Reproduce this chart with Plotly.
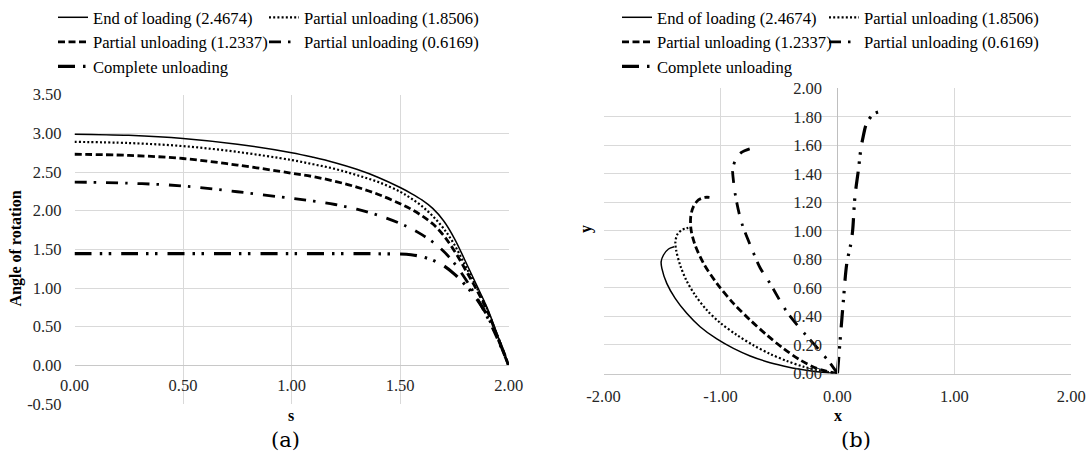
import plotly.graph_objects as go

# ---------------- data ----------------
series_names = ["End of loading (2.4674)", "Partial unloading (1.8506)",
                "Partial unloading (1.2337)", "Partial unloading (0.6169)",
                "Complete unloading"]

# (a) angle of rotation vs s
s_vals = [0, 0.25, 0.5, 0.75, 1.0, 1.1, 1.2, 1.3, 1.4, 1.5, 1.55, 1.6, 1.65, 1.7, 1.75, 1.8, 1.85, 1.9, 1.95, 2.0]
theta_end = [2.99, 2.975, 2.935, 2.86, 2.75, 2.69, 2.62, 2.535, 2.43, 2.30, 2.225, 2.14, 2.03, 1.87, 1.64, 1.35, 1.05, 0.75, 0.38, 0.0]
theta_p1 = [2.89, 2.875, 2.835, 2.76, 2.655, 2.60, 2.54, 2.46, 2.37, 2.245, 2.16, 2.06, 1.93, 1.77, 1.56, 1.29, 1.02, 0.73, 0.37, 0.0]
theta_p2 = [2.73, 2.715, 2.675, 2.59, 2.485, 2.44, 2.38, 2.305, 2.21, 2.09, 2.02, 1.935, 1.83, 1.68, 1.48, 1.24, 0.99, 0.71, 0.36, 0.0]
theta_p3 = [2.37, 2.355, 2.32, 2.245, 2.16, 2.125, 2.08, 2.02, 1.94, 1.835, 1.77, 1.69, 1.595, 1.475, 1.32, 1.12, 0.89, 0.63, 0.33, 0.0]
theta_cu = [1.445, 1.445, 1.445, 1.445, 1.445, 1.445, 1.445, 1.445, 1.443, 1.44, 1.43, 1.405, 1.36, 1.29, 1.18, 1.04, 0.87, 0.65, 0.35, 0.0]

# (b) deformed shapes x-y
x_end = [0, -0.177, -0.319, -0.462, -0.604, -0.746, -0.889, -1.031, -1.174, -1.288, -1.387, -1.459, -1.501, -1.507, -1.487, -1.444, -1.396]
y_end = [0, 0.013, 0.029, 0.053, 0.083, 0.123, 0.176, 0.242, 0.328, 0.422, 0.527, 0.632, 0.737, 0.784, 0.831, 0.873, 0.889]
x_p1 = [0, -0.148, -0.291, -0.433, -0.575, -0.718, -0.860, -1.003, -1.117, -1.217, -1.293, -1.345, -1.379, -1.385, -1.368, -1.330, -1.293, -1.254]
y_p1 = [0, 0.020, 0.048, 0.088, 0.137, 0.198, 0.270, 0.356, 0.445, 0.550, 0.656, 0.761, 0.866, 0.924, 0.976, 1.007, 1.018, 1.025]
x_p2 = [0, -0.177, -0.319, -0.462, -0.604, -0.746, -0.889, -1.031, -1.145, -1.217, -1.251, -1.254, -1.231, -1.188, -1.131, -1.094]
y_p2 = [0, 0.036, 0.095, 0.176, 0.270, 0.375, 0.492, 0.632, 0.773, 0.901, 1.006, 1.100, 1.170, 1.217, 1.235, 1.235]
x_p3 = [0, -0.06, -0.15, -0.27, -0.43, -0.575, -0.66, -0.74, -0.82, -0.87, -0.89, -0.895, -0.87, -0.82, -0.75]
y_p3 = [0, 0.07, 0.16, 0.27, 0.43, 0.63, 0.74, 0.89, 1.06, 1.24, 1.36, 1.43, 1.50, 1.55, 1.575]
x_cu = [0, 0.01, 0.03, 0.05, 0.08, 0.115, 0.13, 0.15, 0.18, 0.20, 0.22, 0.25, 0.31, 0.38]
y_cu = [0, 0.1, 0.3, 0.5, 0.77, 0.91, 1.0, 1.24, 1.43, 1.57, 1.66, 1.755, 1.82, 1.84]

# tick labels
a_xticks = [0, 0.5, 1.0, 1.5, 2.0]
a_xlabels = ["0.00", "0.50", "1.00", "1.50", "2.00"]
a_yticks = [-0.5, 0, 0.5, 1.0, 1.5, 2.0, 2.5, 3.0, 3.5]
a_ylabels = ["-0.50", "0.00", "0.50", "1.00", "1.50", "2.00", "2.50", "3.00", "3.50"]
b_xticks = [-2, -1, 0, 1, 2]
b_xlabels = ["-2.00", "-1.00", "0.00", "1.00", "2.00"]
b_yticks = [0, 0.2, 0.4, 0.6, 0.8, 1.0, 1.2, 1.4, 1.6, 1.8, 2.0]
b_ylabels = ["0.00", "0.20", "0.40", "0.60", "0.80", "1.00", "1.20", "1.40", "1.60", "1.80", "2.00"]

# ---------------- styles ----------------
W, H = 1089, 459
FONT = "Liberation Serif"
styles = [
    dict(color="black", width=1.5, dash="solid"),
    dict(color="black", width=2.2, dash="2px,2.2px"),
    dict(color="black", width=2.8, dash="7px,3.5px"),
    dict(color="black", width=2.8, dash="12px,7px,2.5px,10px"),
    dict(color="black", width=3.2, dash="17px,8px,2.5px,6.5px,2.5px,10px"),
]
legend_cols_a = ["legend", "legend2", "legend", "legend2", "legend"]
legend_cols_b = ["legend3", "legend4", "legend3", "legend4", "legend3"]


def px_x(p):
    return p / W


def px_y(p):
    return 1 - p / H


fig = go.Figure()

thetas = [theta_end, theta_p1, theta_p2, theta_p3, theta_cu]
for i, th in enumerate(thetas):
    fig.add_trace(go.Scatter(x=s_vals, y=th, mode="lines", name=series_names[i],
                             line=dict(shape="spline", smoothing=1.0, **styles[i]),
                             xaxis="x", yaxis="y", legend=legend_cols_a[i]))

xs = [x_end, x_p1, x_p2, x_p3, x_cu]
ys = [y_end, y_p1, y_p2, y_p3, y_cu]
for i in range(5):
    fig.add_trace(go.Scatter(x=xs[i], y=ys[i], mode="lines", name=series_names[i],
                             line=dict(shape="spline", smoothing=0.9, **styles[i]),
                             xaxis="x2", yaxis="y2", legend=legend_cols_b[i]))

# plot area pixel boxes (page coordinates)
aL, aR, aT, aB = 74.5, 508.7, 94.7, 404.0
bL, bR, bT, bB = 603.5, 1071.3, 88.3, 373.5

grid = "#d9d9d9"
tickfont = dict(family=FONT, size=16.5, color="#262626")
a_ydom = [px_y(aB), px_y(aT)]
b_xdom = [px_x(bL), px_x(bR)]
zero_pos_a = a_ydom[0] + (0 - (-0.5)) / 4.0 * (a_ydom[1] - a_ydom[0])
zero_pos_b = b_xdom[0] + 0.5 * (b_xdom[1] - b_xdom[0])

fig.update_layout(
    width=W, height=H,
    margin=dict(l=0, r=0, t=0, b=0),
    paper_bgcolor="white", plot_bgcolor="white",
    font=dict(family=FONT, size=16, color="black"),
    xaxis=dict(domain=[px_x(aL), px_x(aR)], range=[0, 2], anchor="free", position=zero_pos_a,
               tickvals=a_xticks, ticktext=a_xlabels, showgrid=True, gridcolor=grid, gridwidth=1,
               zeroline=False, showline=True, linecolor="#c8c8c8", linewidth=1, ticks="",
               tickfont=tickfont, automargin=False, ticklabelstandoff=5),
    yaxis=dict(domain=a_ydom, range=[-0.5, 3.5], anchor="x",
               tickvals=a_yticks, ticktext=a_ylabels, showgrid=True, gridcolor=grid, gridwidth=1,
               zeroline=False, showline=False, ticks="", tickfont=tickfont, automargin=False,
               ticklabelstandoff=12),
    xaxis2=dict(domain=b_xdom, range=[-2, 2], anchor="y2",
                tickvals=b_xticks, ticktext=b_xlabels, showgrid=True, gridcolor=grid, gridwidth=1,
                zeroline=False, showline=True, linecolor="#c8c8c8", linewidth=1, ticks="",
                tickfont=tickfont, automargin=False, ticklabelstandoff=8),
    yaxis2=dict(domain=[px_y(bB), px_y(bT)], range=[0, 2], anchor="free", position=zero_pos_b,
                tickvals=b_yticks, ticktext=b_ylabels, showgrid=True, gridcolor=grid, gridwidth=1,
                zeroline=False, showline=True, linecolor="#bfbfbf", linewidth=1, ticks="",
                tickfont=tickfont, automargin=False, ticklabelstandoff=12),
    showlegend=True,
)

legfont = dict(family=FONT, size=16.6, color="black")
leg_common = dict(orientation="v", xanchor="left", yanchor="top", bgcolor="rgba(0,0,0,0)",
                  font=legfont, itemwidth=30, tracegroupgap=0, traceorder="normal")
fig.update_layout(
    legend=dict(x=px_x(53), y=1, **leg_common),
    legend2=dict(x=px_x(264), y=1, **leg_common),
    legend3=dict(x=px_x(617), y=1, **leg_common),
    legend4=dict(x=px_x(824), y=1, **leg_common),
)

annos = [
    dict(text="<b>Angle of rotation</b>", x=px_x(15), y=px_y(248.5), textangle=-90, font=dict(size=16)),
    dict(text="<b>s</b>", x=px_x(291), y=px_y(415), font=dict(size=16)),
    dict(text="<b>x</b>", x=px_x(838), y=px_y(415), font=dict(size=16)),
    dict(text="<b>y</b>", x=px_x(586), y=px_y(229), textangle=-90, font=dict(size=16)),
    dict(text="(a)", x=px_x(285), y=px_y(440), font=dict(size=21, family="DejaVu Serif")),
    dict(text="(b)", x=px_x(856), y=px_y(440), font=dict(size=21, family="DejaVu Serif")),
]
for a in annos:
    fig.add_annotation(xref="paper", yref="paper", showarrow=False, xanchor="center", yanchor="middle", **a)

fig.write_html("out.html", config={"displayModeBar": False},
               post_script="document.body.style.margin='0';document.body.style.overflow='hidden';")
